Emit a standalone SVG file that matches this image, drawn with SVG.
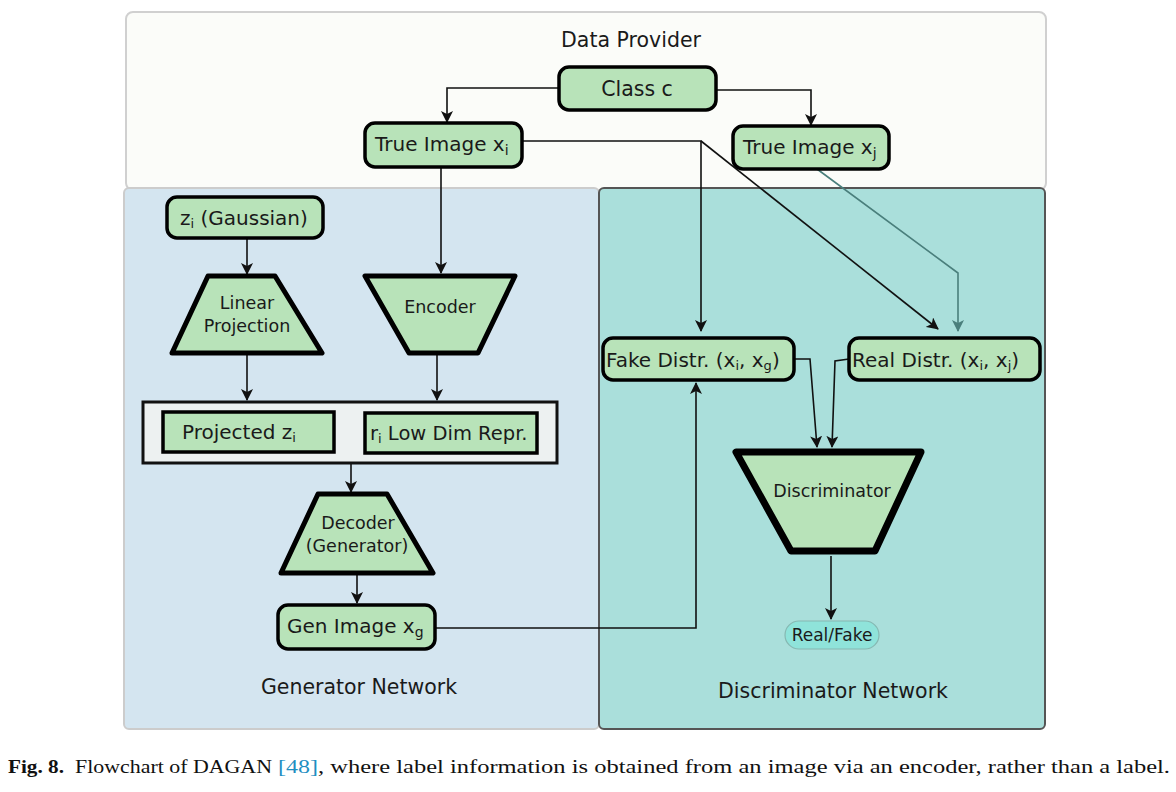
<svg xmlns="http://www.w3.org/2000/svg" width="1176" height="792" viewBox="0 0 1176 792">
<defs>
<style>
.t{font-family:"DejaVu Sans","Liberation Sans",sans-serif;fill:#1a1a1a}
.node{fill:#b8e3b9;stroke:#000;stroke-width:3.5}
.trap{fill:#b8e3b9;stroke:#000;stroke-width:5;stroke-linejoin:round}
.con{fill:none;stroke:#111;stroke-width:1.6}
.cap{font-family:"Liberation Serif",serif;font-size:19px;fill:#111}
</style>
<marker id="ah" viewBox="0 0 12 12" refX="11" refY="6" markerWidth="12" markerHeight="12" markerUnits="userSpaceOnUse" orient="auto">
<path d="M0,0 L12,6 L0,12 L3,6 z" fill="#111"/>
</marker>
<marker id="aht" viewBox="0 0 12 12" refX="11" refY="6" markerWidth="12" markerHeight="12" markerUnits="userSpaceOnUse" orient="auto">
<path d="M0,0 L12,6 L0,12 L3,6 z" fill="#4a7f7c"/>
</marker>
</defs>
<rect width="1176" height="792" fill="#fff"/>

<g id="data-provider">
<rect x="126" y="12" width="920" height="178" rx="7" fill="#fbfcf9" stroke="#d0d0d0" stroke-width="2"/>
<text class="t" x="631" y="47" font-size="20.5" text-anchor="middle">Data Provider</text>
</g>
<g id="generator-network">
<rect x="124" y="188" width="475" height="541" rx="5" fill="#d4e5f0" stroke="#cccccc" stroke-width="2"/>
<text class="t" x="359" y="694" font-size="20.5" text-anchor="middle">Generator Network</text>
</g>
<g id="discriminator-network">
<rect x="599" y="188" width="446" height="541" rx="5" fill="#aadfdb" stroke="#555" stroke-width="2"/>
<text class="t" x="833" y="698" font-size="20.5" text-anchor="middle">Discriminator Network</text>
</g>

<g id="connectors">
<polyline class="con" points="559,88 447,88 447,122" marker-end="url(#ah)"/>
<polyline class="con" points="716,90 811,90 811,125" marker-end="url(#ah)"/>
<line class="con" x1="441" y1="167" x2="441" y2="273" marker-end="url(#ah)"/>
<polyline class="con" points="522,141 701,141 701,331" marker-end="url(#ah)"/>
<line class="con" x1="701" y1="141" x2="938" y2="329" marker-end="url(#ah)"/>
<polyline points="817,169 958,273 958,331" fill="none" stroke="#4a7f7c" stroke-width="1.6" marker-end="url(#aht)"/>
<line class="con" x1="247" y1="238" x2="247" y2="274" marker-end="url(#ah)"/>
<line class="con" x1="247" y1="355" x2="247" y2="400" marker-end="url(#ah)"/>
<line class="con" x1="437" y1="355" x2="437" y2="400" marker-end="url(#ah)"/>
<line class="con" x1="351" y1="463" x2="351" y2="492" marker-end="url(#ah)"/>
<line class="con" x1="357" y1="575" x2="357" y2="603" marker-end="url(#ah)"/>
<polyline class="con" points="435,628 696,628 696,383" marker-end="url(#ah)"/>
<polyline class="con" points="794,359 810,359 817,447" marker-end="url(#ah)"/>
<polyline class="con" points="849,359 835,361 832,447" marker-end="url(#ah)"/>
<line class="con" x1="831" y1="556" x2="831" y2="619" marker-end="url(#ah)"/>
</g>

<g id="class-c">
<rect class="node" x="559" y="67" width="157" height="43" rx="10"/>
<text class="t" x="637" y="96" font-size="20.5" text-anchor="middle">Class c</text>
</g>
<g id="true-image-xi">
<rect class="node" x="365" y="123" width="157" height="44" rx="10"/>
<text class="t" x="375" y="151" font-size="20">True Image x<tspan font-size="14" dy="4">i</tspan></text>
</g>
<g id="true-image-xj">
<rect class="node" x="733" y="126" width="156" height="43" rx="10"/>
<text class="t" x="743" y="154" font-size="20">True Image x<tspan font-size="14" dy="4">j</tspan></text>
</g>
<g id="zi-gaussian">
<rect class="node" x="167" y="197" width="156" height="41" rx="10"/>
<text class="t" x="180" y="225" font-size="20">z<tspan font-size="13" dy="3">i</tspan><tspan dy="-3"> (Gaussian)</tspan></text>
</g>
<g id="linear-projection">
<polygon class="trap" points="208,276 275,276 322,353 172,353"/>
<text class="t" x="247" y="309" font-size="17.5" text-anchor="middle">Linear</text>
<text class="t" x="247" y="332" font-size="17.5" text-anchor="middle">Projection</text>
</g>
<g id="encoder">
<polygon class="trap" points="365,276 515,276 478,353 409,353"/>
<text class="t" x="440" y="313" font-size="17.5" text-anchor="middle">Encoder</text>
</g>
<g id="latent-container">
<rect x="143" y="402" width="414" height="61" fill="#edf1f1" stroke="#111" stroke-width="3"/>
</g>
<g id="projected-zi">
<rect x="163" y="412" width="171" height="40" fill="#b8e3b9" stroke="#000" stroke-width="3.5"/>
<text class="t" x="182" y="439" font-size="20">Projected z<tspan font-size="13" dy="3">i</tspan></text>
</g>
<g id="ri-low-dim">
<rect x="365" y="413" width="172" height="40" fill="#b8e3b9" stroke="#000" stroke-width="3.5"/>
<text class="t" x="370" y="440" font-size="19.5">r<tspan font-size="13" dy="3">i</tspan><tspan dy="-3"> Low Dim Repr.</tspan></text>
</g>
<g id="decoder">
<polygon class="trap" points="318,494 387,494 433,573 281,573"/>
<text class="t" x="358" y="529" font-size="17.5" text-anchor="middle">Decoder</text>
<text class="t" x="357" y="552" font-size="17.5" text-anchor="middle">(Generator)</text>
</g>
<g id="gen-image">
<rect class="node" x="278" y="605" width="157" height="44" rx="10"/>
<text class="t" x="287" y="633" font-size="20">Gen Image x<tspan font-size="14" dy="4">g</tspan></text>
</g>
<g id="fake-distr">
<rect class="node" x="603" y="338" width="191" height="42" rx="10"/>
<text class="t" x="606" y="367" font-size="20">Fake Distr. (x<tspan font-size="13" dy="3">i</tspan><tspan dy="-3">, x</tspan><tspan font-size="13" dy="3">g</tspan><tspan dy="-3">)</tspan></text>
</g>
<g id="real-distr">
<rect class="node" x="849" y="338" width="191" height="42" rx="10"/>
<text class="t" x="852" y="367" font-size="20">Real Distr. (x<tspan font-size="13" dy="3">i</tspan><tspan dy="-3">, x</tspan><tspan font-size="13" dy="3">j</tspan><tspan dy="-3">)</tspan></text>
</g>
<g id="discriminator">
<polygon points="736,452 921,452 875,551 791,551" fill="#b8e3b9" stroke="#000" stroke-width="7" stroke-linejoin="round"/>
<text class="t" x="832" y="497" font-size="17.5" text-anchor="middle">Discriminator</text>
</g>
<g id="real-fake">
<rect x="785" y="621" width="94" height="28" rx="14" fill="#8fe3da" stroke="#86b8b2" stroke-width="1.2"/>
<text class="t" x="832" y="641" font-size="17" text-anchor="middle">Real/Fake</text>
</g>

<g id="caption">
<text class="cap" x="8" y="773" font-weight="bold" textLength="56" lengthAdjust="spacingAndGlyphs">Fig. 8.</text>
<text class="cap" x="75" y="773" textLength="197" lengthAdjust="spacingAndGlyphs">Flowchart of DAGAN</text>
<text class="cap" x="278" y="773" style="fill:#1f8fc2" textLength="40" lengthAdjust="spacingAndGlyphs">[48]</text>
<text class="cap" x="318" y="773" textLength="852" lengthAdjust="spacingAndGlyphs">, where label information is obtained from an image via an encoder, rather than a label.</text>
</g>
</svg>
